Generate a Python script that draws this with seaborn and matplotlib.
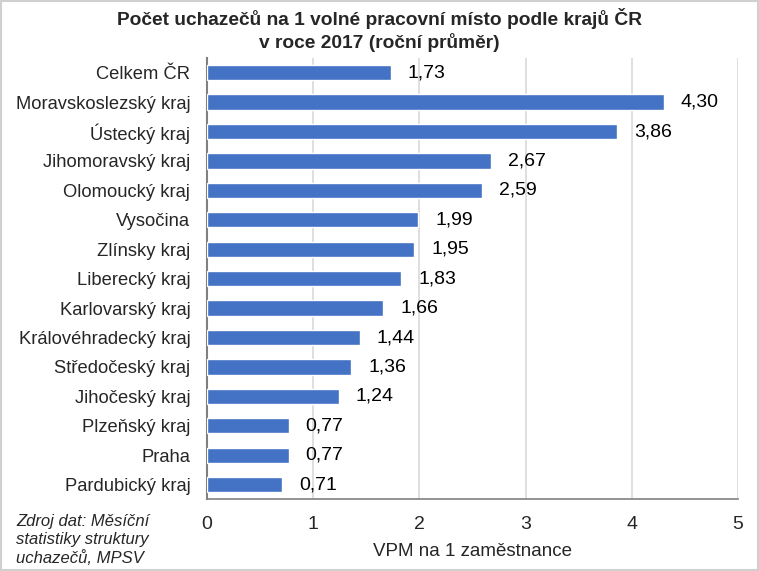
import matplotlib
matplotlib.use("Agg")
import matplotlib.pyplot as plt
import seaborn as sns
import pandas as pd
from matplotlib.patches import Rectangle

categories = ["Celkem ČR", "Moravskoslezský kraj", "Ústecký kraj", "Jihomoravský kraj",
              "Olomoucký kraj", "Vysočina", "Zlínsky kraj", "Liberecký kraj",
              "Karlovarský kraj", "Královéhradecký kraj", "Středočeský kraj",
              "Jihočeský kraj", "Plzeňský kraj", "Praha", "Pardubický kraj"]
values = [1.73, 4.30, 3.86, 2.67, 2.59, 1.99, 1.95, 1.83, 1.66, 1.44, 1.36, 1.24, 0.77, 0.77, 0.71]
xticks = [0, 1, 2, 3, 4, 5]

sns.set_theme(style="white")
plt.rcParams['font.family'] = ['Liberation Sans', 'DejaVu Sans']

df = pd.DataFrame({"kraj": categories, "val": values})

fig = plt.figure(figsize=(7.59, 5.71), dpi=100)
ax = fig.add_axes([0.2727, 0.1255, 0.6996, 0.7729])
sns.barplot(data=df, y="kraj", x="val", orient="h", color="#4472C4",
            saturation=1, width=0.52, ax=ax, zorder=3)

ax.set_xlim(0, 5)
ax.set_ylim(len(categories) - 0.5, -0.5)
ax.set_xticks(xticks)
ax.set_xticklabels([str(t) for t in xticks], fontsize=14)
ax.tick_params(axis='y', labelsize=13.2, length=0, pad=12)
ax.tick_params(axis='x', length=0, pad=12)
ax.grid(axis='x', color='#D9D9D9', linewidth=1.2, zorder=0)
ax.set_ylabel("")
ax.set_xlabel("VPM na 1 zaměstnance", fontsize=13.5, labelpad=7)
for s in ["top", "right"]:
    ax.spines[s].set_visible(False)
ax.spines["left"].set_color("#808080")
ax.spines["left"].set_linewidth(1.5)
ax.spines["bottom"].set_color("#808080")
ax.spines["bottom"].set_linewidth(1.2)

for i, v in enumerate(values):
    ax.text(v + 0.16, i, f"{v:.2f}".replace(".", ","), va="center", ha="left",
            fontsize=14, color="black")

fig.text(0.5, 0.986, "Počet uchazečů na 1 volné pracovní místo podle krajů ČR\nv roce 2017 (roční průměr)",
         ha="center", va="top", fontsize=13.8, fontweight="bold", linespacing=1.3)
fig.text(0.021, 0.008, "Zdroj dat: Měsíční\nstatistiky struktury\nuchazečů, MPSV",
         ha="left", va="bottom", fontsize=12, style="italic", linespacing=1.25)

fig.patches.append(Rectangle((0.001, 0.001), 0.998, 0.997, transform=fig.transFigure,
                             fill=False, edgecolor="#D0D0D0", linewidth=1.5))

fig.savefig("out.png", dpi=100)
